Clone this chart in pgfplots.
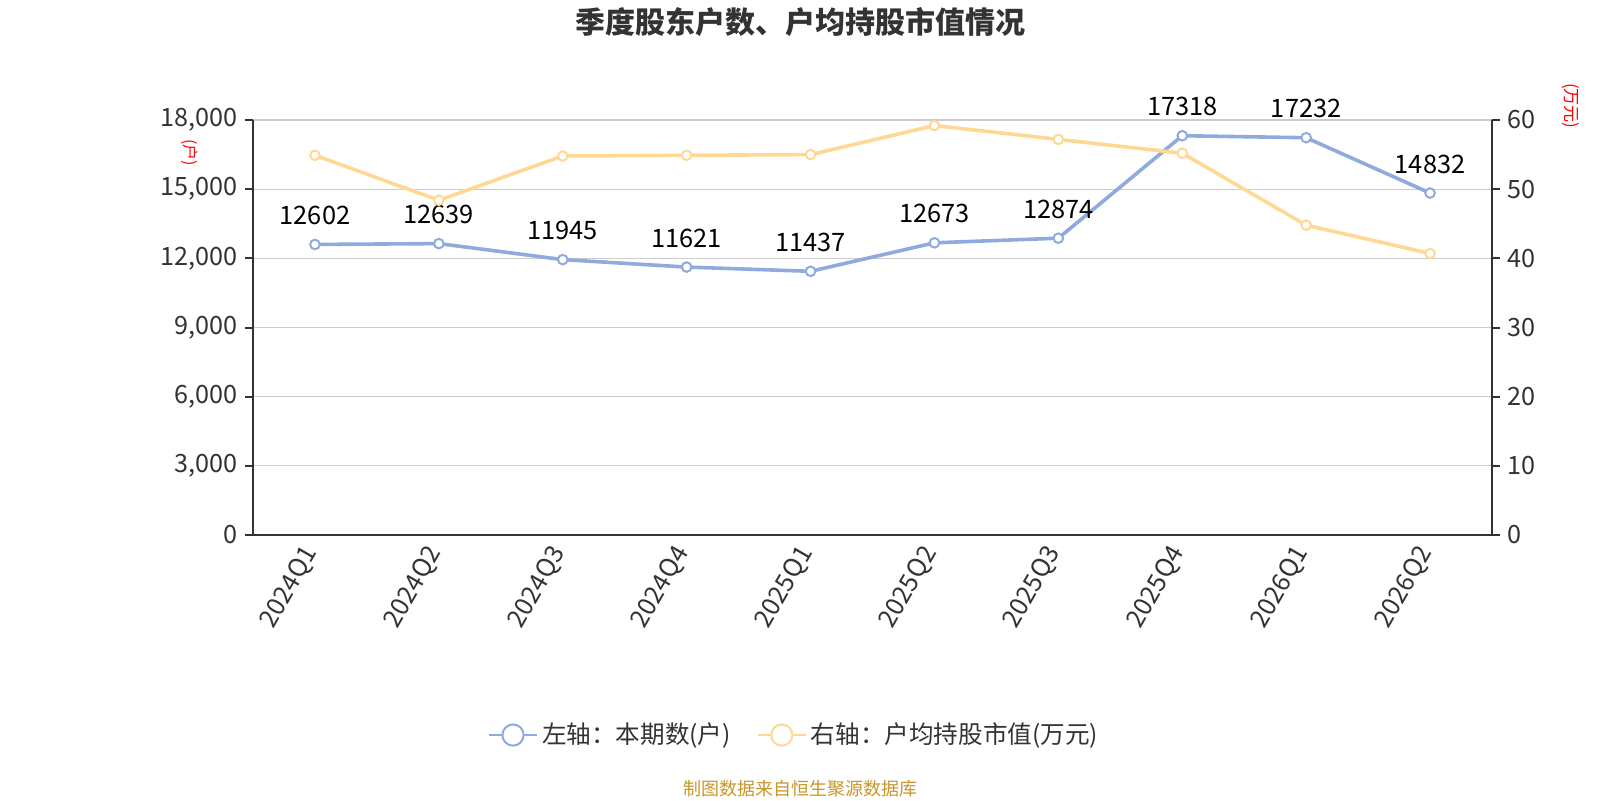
\documentclass[border=0pt]{standalone}
\usepackage{fontspec}
\setmainfont{Noto Sans CJK SC}
\usepackage{pgfplots}
\pgfplotsset{compat=1.18}
\definecolor{blueS}{RGB}{143,170,220}
\definecolor{yelS}{RGB}{255,216,150}
\definecolor{axc}{RGB}{51,51,51}
\definecolor{gridc}{RGB}{204,204,204}
\definecolor{srcc}{RGB}{200,150,40}
\begin{document}
\begin{tikzpicture}[x=1pt,y=1pt]
\useasboundingbox (0,0) rectangle (800,400);
\node[font=\fontsize{15}{18}\selectfont\bfseries, text=axc] at (400,389) {季度股东户数、户均持股市值情况};
\node[rotate=-90, text=red, font=\fontsize{8}{9}\selectfont] at (95,323.5) {(户)};
\node[rotate=-90, text=red, font=\fontsize{8.5}{9}\selectfont] at (785.5,347) {(万元)};
\node[text=srcc, font=\fontsize{9}{10}\selectfont] at (400,5.5) {制图数据来自恒生聚源数据库};
\begin{axis}[
  at={(126.5pt,132.5pt)}, anchor=south west, scale only axis,
  width=619.5pt, height=207.5pt,
  xmin=-0.5, xmax=9.5, ymin=0, ymax=18000,
  axis x line*=bottom, axis y line*=left,
  axis line style={axc, line width=1pt, -},
  xtick={0,...,9},
  xticklabels={2024Q1,2024Q2,2024Q3,2024Q4,2025Q1,2025Q2,2025Q3,2025Q4,2026Q1,2026Q2},
  xtick style={draw=none},
  minor xtick={-0.5,0.5,...,9.5},
  minor x tick style={axc, line width=1pt},
  minor tick length=4pt,
  ytick={0,3000,...,18000},
  y tick style={axc, line width=1pt},
  major tick length=4pt,
  tick align=outside,
  ymajorgrids, grid style={gridc, line width=0.6pt},
  scaled y ticks=false,
  yticklabel style={/pgf/number format/.cd, fixed, 1000 sep={,}},
  /pgf/number format/assume math mode=true,
  ticklabel style={font=\fontsize{12.6}{14}\selectfont, text=axc},
  xticklabel style={rotate=60, anchor=east},
  clip=false,
]
\addplot[blueS, line width=1.8pt, mark=*, mark size=2.4pt,
  mark options={fill=white, draw=blueS, line width=1pt},
  nodes near coords, point meta=explicit symbolic,
  every node near coord/.append style={anchor=base, yshift=10pt, text=black, font=\fontsize{12.7}{14}\selectfont}]
coordinates {
(0,12602) [12602]
(1,12639) [12639]
(2,11945) [11945]
(3,11621) [11621]
(4,11437) [11437]
(5,12673) [12673]
(6,12874) [12874]
(7,17318) [17318]
(8,17232) [17232]
(9,14832) [14832]
};
\end{axis}
\begin{axis}[
  at={(126.5pt,132.5pt)}, anchor=south west, scale only axis,
  width=619.5pt, height=207.5pt,
  xmin=-0.5, xmax=9.5, ymin=0, ymax=60,
  axis x line=none, axis y line*=right,
  axis line style={axc, line width=1pt, -},
  ytick={0,10,...,60},
  y tick style={axc, line width=1pt},
  major tick length=4pt,
  tick align=outside,
  /pgf/number format/assume math mode=true,
  ticklabel style={font=\fontsize{12.6}{14}\selectfont, text=axc},
  clip=false,
  legend image code/.code={
    \draw[line width=1pt] (0pt,0pt) -- (24pt,0pt);
    \draw[line width=1pt, fill=white] (12pt,0pt) circle (5.3pt);},
  legend style={at={(0.4375,-0.482)}, anchor=center, draw=none,
    font=\fontsize{12.3}{14}\selectfont, text=axc,
    /tikz/every even column/.append style={column sep=11pt}},
  legend columns=2, legend cell align=left,
]
\addlegendimage{blueS}
\addlegendentry{左轴：本期数(户)}
\addplot[yelS, line width=1.8pt, mark=*, mark size=2.4pt,
  mark options={fill=white, draw=yelS, line width=1pt}]
coordinates {
(0,54.9) (1,48.4) (2,54.8) (3,54.9) (4,55.0)
(5,59.2) (6,57.2) (7,55.2) (8,44.8) (9,40.7)
};
\addlegendentry{右轴：户均持股市值(万元)}
\end{axis}
\end{tikzpicture}
\end{document}
